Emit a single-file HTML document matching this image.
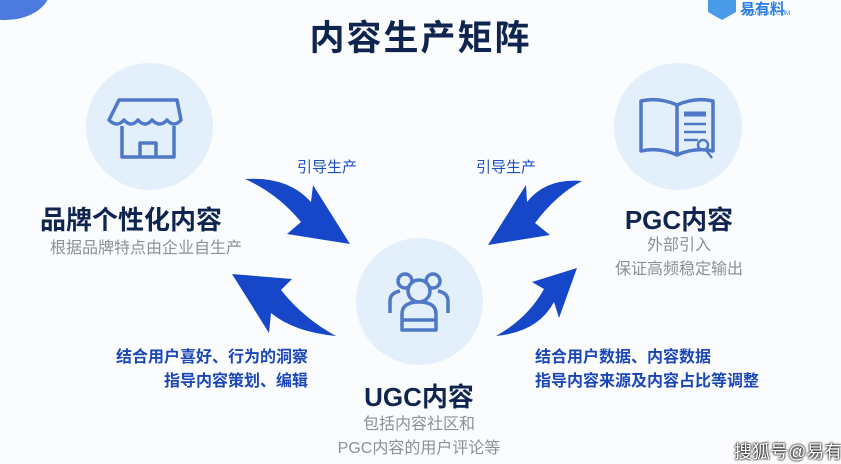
<!DOCTYPE html>
<html><head><meta charset="utf-8"><style>
body{margin:0;width:841px;height:462px;overflow:hidden;background:#fbfcfe;font-family:"Liberation Sans","Noto Sans CJK SC",sans-serif;position:relative}
.t{position:absolute;white-space:nowrap}
.c{position:absolute;border-radius:50%;background:#e3f0fb}
</style></head><body>
<div style="position:absolute;left:-40px;top:-40px;width:90px;height:60px;border-radius:50%;background:#2e63d8;opacity:.85"></div>
<div class="t" style="left:0;width:841px;top:10px;text-align:center;font-size:35px;font-weight:bold;color:#0f2550;letter-spacing:2px">内容生产矩阵</div>
<div style="position:absolute;left:708px;top:0;width:28px;height:20px;background:#4a9be8;clip-path:polygon(0 0,100% 0,100% 60%,50% 100%,0 60%)"></div>
<div class="t" style="left:740px;top:-2px;font-size:15px;font-weight:bold;color:#2a7fe0">易有料</div>
<div class="t" style="left:742px;top:11px;font-size:6px;color:#2a7fe0">YIYOULIAO.COM</div>

<div class="c" style="left:86px;top:63px;width:127px;height:127px"></div>
<div class="c" style="left:614px;top:63px;width:128px;height:127px"></div>
<div class="c" style="left:356px;top:238px;width:127px;height:127px"></div>

<svg width="841" height="462" style="position:absolute;left:0;top:0" fill="none" stroke="#4f79c8" stroke-width="3.5" stroke-linejoin="round">
<path d="M119 100 h58 l4 20 q-7 8 -14 0 q-7 8 -15 0 q-7 8 -14 0 q-7 8 -14 0 q-7 8 -15 0 z"/>
<path d="M122 126 v31 h52 v-31"/><path d="M140 157 v-14 h16 v14"/>
<path d="M641 101 q18 -4 36 4 v50 q-18 -8 -36 -4 z"/><path d="M677 105 q18 -8 36 -4 v50 q-18 -4 -36 4"/>
<path d="M684 114 h22" stroke-width="5"/><path d="M684 124 h22 M684 132 h22 M684 140 h14" stroke-width="2.5"/>
<circle cx="703" cy="145" r="5" stroke-width="2.5"/><path d="M706 150 l6 8" stroke-width="2.5"/>
<circle cx="405" cy="281" r="7"/><circle cx="433" cy="281" r="7"/>
<path d="M390 313 v-12 q0 -8 10 -10 M448 313 v-12 q0 -8 -10 -10"/>
<circle cx="419" cy="291" r="11" fill="#e3f0fb"/>
<path d="M402 330 v-16 q0 -12 17 -12 q17 0 17 12 v16 z" fill="#e3f0fb"/><path d="M402 320 h34"/>
</svg>

<svg width="841" height="462" style="position:absolute;left:0;top:0" fill="#1747c9">
<path d="M350 244 L287 234 L301 222 Q278 194 245 179 Q288 176 311 202 L313 185 Z"/>
<path d="M488 245 L550 235 L535 223 Q556 195 582 181 Q546 178 527 202 L526 185 Z"/>
<path d="M232 274 L292 279 L281 290 Q303 318 336 336 Q294 332 271 313 L269 333 Z"/>
<path d="M577 268 L532 282 L544 289 Q528 318 496 336 Q538 332 554 302 L559 318 Z"/>
</svg>

<div class="t" style="left:40px;top:200px;font-size:26px;font-weight:bold;color:#0f2550">品牌个性化内容</div>
<div class="t" style="left:50px;top:234px;font-size:16px;color:#8b8f96">根据品牌特点由企业自生产</div>
<div class="t" style="left:604px;top:200px;width:150px;text-align:center;font-size:26px;font-weight:bold;color:#0f2550">PGC内容</div>
<div class="t" style="left:604px;top:234px;width:150px;text-align:center;font-size:16px;color:#8b8f96;line-height:24px">外部引入<br>保证高频稳定输出</div>
<div class="t" style="left:297px;top:156px;font-size:15px;color:#1e4fbf">引导生产</div>
<div class="t" style="left:476px;top:156px;font-size:15px;color:#1e4fbf">引导生产</div>
<div class="t" style="left:100px;top:346px;width:208px;text-align:right;font-size:16px;font-weight:bold;color:#1a46b8;line-height:24px">结合用户喜好、行为的洞察<br>指导内容策划、编辑</div>
<div class="t" style="left:535px;top:346px;font-size:16px;font-weight:bold;color:#1a46b8;line-height:24px">结合用户数据、内容数据<br>指导内容来源及内容占比等调整</div>
<div class="t" style="left:319px;top:377px;width:200px;text-align:center;font-size:26px;font-weight:bold;color:#0f2550">UGC内容</div>
<div class="t" style="left:319px;top:413px;width:200px;text-align:center;font-size:16px;color:#8b8f96;line-height:24px">包括内容社区和<br>PGC内容的用户评论等</div>
<div class="t" style="left:734px;top:438px;font-size:18px;color:#fff;text-shadow:0 0 2px #000,0 0 2px #000">搜狐号@易有</div>
</body></html>
